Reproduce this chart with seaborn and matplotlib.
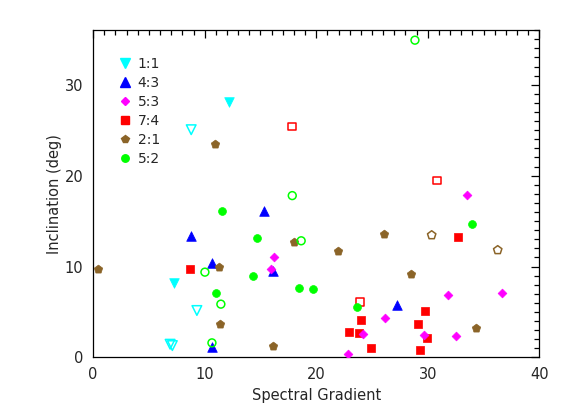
import numpy as np
import pandas as pd
import seaborn as sns
import matplotlib.pyplot as plt
from matplotlib.ticker import MultipleLocator

# resonance classes, legend order
ratios = ["1:1", "4:3", "5:3", "7:4", "2:1", "5:2"]

# filled symbols (spectral gradient, inclination)
x_11 = [12.14, 7.27]
y_11 = [28.1, 8.18]
x_43 = [15.34, 8.76, 10.62, 16.09, 10.65, 27.24]
y_43 = [16.06, 13.4, 10.36, 9.46, 1.1, 5.8]
x_53 = [16.23, 15.9, 26.17, 24.16, 29.69, 22.84, 33.54, 31.84, 36.68, 32.5]
y_53 = [11.05, 9.78, 4.3, 2.58, 2.42, 0.36, 17.88, 6.9, 7.09, 2.4]
x_74 = [8.67, 29.72, 24.0, 29.1, 22.96, 23.86, 29.9, 24.9, 29.3, 32.74]
y_74 = [9.7, 5.09, 4.11, 3.71, 2.8, 2.69, 2.18, 1.02, 0.8, 13.27]
x_21 = [10.94, 11.27, 0.45, 11.33, 16.1, 18.0, 26.07, 21.95, 28.46, 34.3]
y_21 = [23.45, 9.96, 9.7, 3.71, 1.23, 12.68, 13.6, 11.67, 9.18, 3.2]
x_52 = [11.57, 14.68, 14.35, 11.0, 18.48, 19.73, 23.65, 33.96]
y_52 = [16.1, 13.16, 8.98, 7.05, 7.6, 7.49, 5.6, 14.69]

# open symbols
ox_11 = [8.79, 9.3, 6.9, 7.1]
oy_11 = [25.05, 5.16, 1.45, 1.3]
ox_74 = [17.85, 30.85, 23.92]
oy_74 = [25.4, 19.45, 6.1]
ox_21 = [30.35, 36.27]
oy_21 = [13.45, 11.81]
ox_52 = [28.85, 17.85, 18.65, 10.02, 11.45, 10.65]
oy_52 = [34.9, 17.8, 12.83, 9.38, 5.86, 1.6]

filled = {"1:1": (x_11, y_11), "4:3": (x_43, y_43), "5:3": (x_53, y_53),
          "7:4": (x_74, y_74), "2:1": (x_21, y_21), "5:2": (x_52, y_52)}
hollow = {"1:1": (ox_11, oy_11), "7:4": (ox_74, oy_74),
          "2:1": (ox_21, oy_21), "5:2": (ox_52, oy_52)}

colors = {"1:1": "#00FFFF", "4:3": "#0000FF", "5:3": "#FF00FF",
          "7:4": "#FF0000", "2:1": "#8B6428", "5:2": "#00FF00"}
markers = {"1:1": "v", "4:3": "^", "5:3": "D", "7:4": "s", "2:1": "p", "5:2": "o"}
sizes = {"1:1": 48, "4:3": 48, "5:3": 20, "7:4": 30, "2:1": 40, "5:2": 32}

sns.set_style("white")
plt.rcParams['font.family'] = ['DejaVu Sans']

fig, ax = plt.subplots(figsize=(5.68, 4.19), dpi=100)
fig.subplots_adjust(left=0.164, right=0.9495, top=0.928, bottom=0.147)

draw_order = ["1:1", "4:3", "7:4", "5:3", "2:1", "5:2"]
for r in draw_order:
    xs, ys = filled[r]
    sns.scatterplot(x=xs, y=ys, marker=markers[r], s=sizes[r], color=colors[r],
                    edgecolor=colors[r], linewidth=0.5, ax=ax, zorder=3)
    if r in hollow:
        hx, hy = hollow[r]
        sns.scatterplot(x=hx, y=hy, marker=markers[r], s=sizes[r], facecolors="none",
                        edgecolor=colors[r], linewidth=1.1, ax=ax, zorder=3)

handles = [plt.Line2D([], [], linestyle="none", marker=markers[r],
                      markersize=np.sqrt(sizes[r]) * 0.95, color=colors[r]) for r in ratios]
ax.legend(handles, ratios, loc="upper left", bbox_to_anchor=(0.047, 0.935),
          frameon=False, fontsize=10, handlelength=0.8, handletextpad=0.5,
          labelspacing=0.36, borderaxespad=0)

ax.set_xlim(0, 40)
ax.set_ylim(0, 36)
ax.set_xticks([0, 10, 20, 30, 40])
ax.set_yticks([0, 10, 20, 30])
ax.xaxis.set_minor_locator(MultipleLocator(1))
ax.yaxis.set_minor_locator(MultipleLocator(1))
ax.tick_params(which="both", direction="in", top=True, right=True, labelsize=10.5,
               width=0.9, color="black")
ax.tick_params(which="major", length=6, pad=7)
ax.tick_params(which="minor", length=3.5)
for sp in ax.spines.values():
    sp.set_linewidth(0.9)
    sp.set_color("black")

ax.set_xlabel("Spectral Gradient", fontsize=10.5, labelpad=4)
ax.set_ylabel("Inclination (deg)", fontsize=10.5, labelpad=2)

fig.savefig("out.png", dpi=100)
